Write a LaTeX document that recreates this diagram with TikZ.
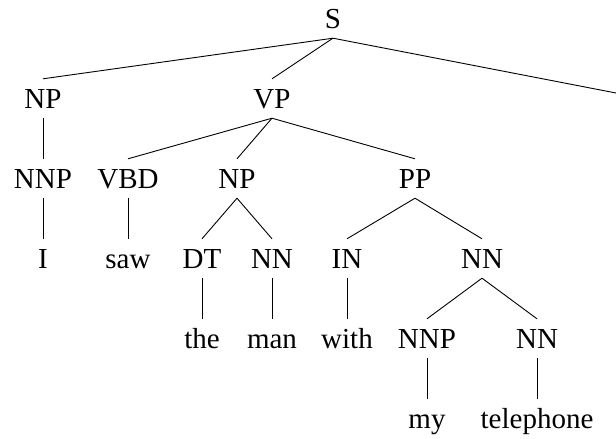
\documentclass[tikz,border=0pt]{standalone}
\usepackage{fontspec}
\setmainfont{Liberation Serif}
\begin{document}
\begin{tikzpicture}[x=1pt,y=-1pt,
  lbl/.style={anchor=base,inner xsep=0pt,inner ysep=10pt,text height=19pt,text depth=0pt,font=\fontsize{29}{34}\selectfont},
  br/.style={draw=black,line width=0.9pt}]
\useasboundingbox (0,0) rectangle (616,439);
% row 0
\node[lbl] (S) at (333,28) {S};
% row 1
\node[lbl] (NP) at (43,108) {NP};
\node[lbl] (VP) at (272,108) {VP};
\coordinate (R) at (616,93);
% row 2
\node[lbl] (NNPa) at (43,188) {NNP};
\node[lbl] (VBD) at (128,188) {VBD};
\node[lbl] (NPb) at (237,188) {NP};
\node[lbl] (PP) at (415,188) {PP};
% row 3
\node[lbl] (I) at (43,268) {I};
\node[lbl] (saw) at (128,268) {saw};
\node[lbl] (DT) at (202,268) {DT};
\node[lbl] (NNa) at (272,268) {NN};
\node[lbl] (IN) at (347,268) {IN};
\node[lbl] (NNb) at (482,268) {NN};
% row 4
\node[lbl] (the) at (202,348) {the};
\node[lbl] (man) at (272,348) {man};
\node[lbl] (with) at (347,348) {with};
\node[lbl] (NNPb) at (427,348) {NNP};
\node[lbl] (NNc) at (537,348) {NN};
% row 5
\node[lbl] (my) at (427,428) {my};
\node[lbl] (tel) at (537,428) {telephone};
% branches
\draw[br] (S.south) -- (NP.north);
\draw[br] (S.south) -- (VP.north);
\draw[br] (S.south) -- (R);
\draw[br] (NP.south) -- (NNPa.north);
\draw[br] (VP.south) -- (VBD.north);
\draw[br] (VP.south) -- (NPb.north);
\draw[br] (VP.south) -- (PP.north);
\draw[br] (NNPa.south) -- (I.north);
\draw[br] (VBD.south) -- (saw.north);
\draw[br] (NPb.south) -- (DT.north);
\draw[br] (NPb.south) -- (NNa.north);
\draw[br] (PP.south) -- (IN.north);
\draw[br] (PP.south) -- (NNb.north);
\draw[br] (DT.south) -- (the.north);
\draw[br] (NNa.south) -- (man.north);
\draw[br] (IN.south) -- (with.north);
\draw[br] (NNb.south) -- (NNPb.north);
\draw[br] (NNb.south) -- (NNc.north);
\draw[br] (NNPb.south) -- (my.north);
\draw[br] (NNc.south) -- (tel.north);
\end{tikzpicture}
\end{document}
